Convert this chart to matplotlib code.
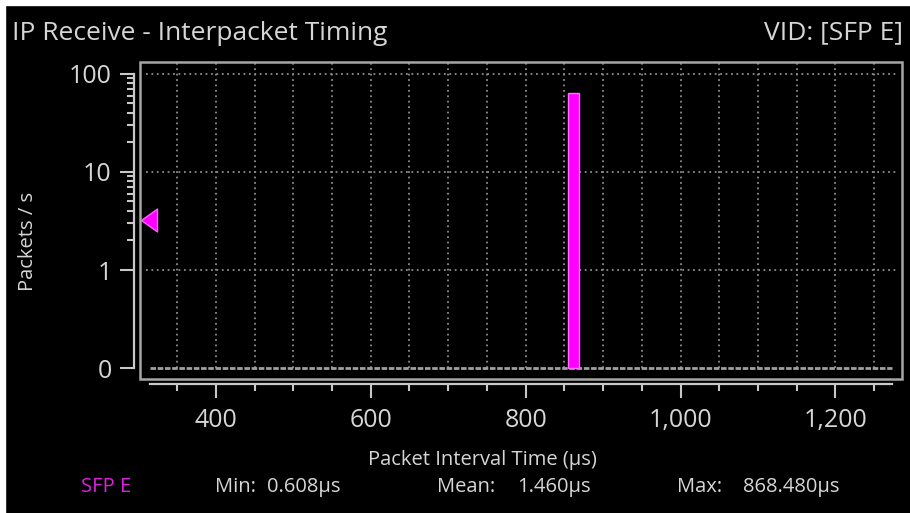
import matplotlib
matplotlib.use("Agg")
import matplotlib.pyplot as plt
import matplotlib.ticker as ticker
import matplotlib.transforms as mtransforms
from matplotlib.patches import Rectangle
from matplotlib.path import Path

# histogram data (packets / s per interval bin)
bin_centers = [862]
bin_rates = [64]
bin_width = 15
baseline_x = [315, 1273]          # zero-rate trace across the visible range
baseline_rate = [0, 0]
offscale_rate = 3.2               # value of the bin that is left of the x range

x_major = [400, 600, 800, 1000, 1200]
y_ticks = [0, 1, 10, 100]
y_labels = ["0", "1", "10", "100"]
ZERO_AT = 0.1                     # where "0" sits on the log axis

title = "IP Receive - Interpacket Timing"
source = "VID: [SFP E]"
stream = "SFP E"
stats_names = ["Min:", "Mean:", "Max:"]
stats_values = ["0.608\u00b5s", "1.460\u00b5s", "868.480\u00b5s"]

FG = "#d6d6d6"
GRID = "#8c8c8c"
MAGENTA = "#ff00ff"
FONT = ["Open Sans", "DejaVu Sans"]
plt.rcParams["font.family"] = FONT


def y_disp(v):
    return v if v > 0 else ZERO_AT


W, H = 910, 513
fig = plt.figure(figsize=(W / 100, H / 100), dpi=100, facecolor="black")
ax = fig.add_axes([140 / W, 134 / H, 762 / W, 317 / H])
ax.set_facecolor("black")
ax.set_yscale("log")
ax.set_xlim(302, 1286)
ax.set_ylim(10 ** -1.112, 10 ** 2.122)

# grid, stops at the zero trace
grid_x = list(range(350, 1251, 50))
ax.vlines(grid_x, ZERO_AT, 10 ** 2.122, colors=GRID, linestyles=(0, (1, 2)), lw=1.3, zorder=1)
for yv in y_ticks[1:]:
    ax.axhline(yv, xmin=0.008, xmax=0.994, color=GRID, ls=(0, (1, 2)), lw=1.3, zorder=1)

# zero trace
ax.plot(baseline_x, [y_disp(v) for v in baseline_rate], color="#a0a0a0",
        lw=2, ls=(0, (2, 0.6)), zorder=2)

# bars
ax.bar(bin_centers, [r - ZERO_AT for r in bin_rates], bottom=ZERO_AT, width=bin_width,
       color=MAGENTA, edgecolor="#ff70ff", lw=1, zorder=3)

# off-scale marker on the left edge
tri = Path([(-0.7, 0), (0.7, 1), (0.7, -1), (-0.7, 0)])
trans = mtransforms.blended_transform_factory(ax.transAxes, ax.transData) + \
    mtransforms.ScaledTranslation(9 / 100, 0, fig.dpi_scale_trans)
ax.plot([0], [offscale_rate], marker=tri, ms=16.5, color=MAGENTA, mec="#ff60ff",
        transform=trans, clip_on=False, zorder=4)

# frame
ax.add_patch(Rectangle((0, 0), 1, 1, transform=ax.transAxes, fill=False,
                       ec="#a6a6a6", lw=1.8, clip_on=False, zorder=5))

# axes
for s in ["top", "right"]:
    ax.spines[s].set_visible(False)
ax.spines["left"].set_position(("outward", 4.3))
ax.spines["bottom"].set_position(("outward", 3.6))
ax.spines["left"].set_bounds(ZERO_AT, 100)
ax.spines["bottom"].set_bounds(baseline_x[0], baseline_x[1])
for s in ["left", "bottom"]:
    ax.spines[s].set_color("#c8c8c8")
    ax.spines[s].set_linewidth(1.6)

ax.yaxis.set_major_locator(ticker.FixedLocator([y_disp(v) for v in y_ticks]))
ax.yaxis.set_major_formatter(ticker.FixedFormatter(y_labels))
ax.yaxis.set_minor_locator(ticker.FixedLocator([k * 10 ** e for e in (0, 1) for k in range(2, 10)]))
ax.yaxis.set_minor_formatter(ticker.NullFormatter())

ax.xaxis.set_major_locator(ticker.FixedLocator(x_major))
ax.xaxis.set_major_formatter(ticker.FuncFormatter(lambda v, p: f"{v:,.0f}"))
ax.xaxis.set_minor_locator(ticker.MultipleLocator(50))

ax.tick_params(which="major", length=10, width=1.5, color="#c8c8c8",
               labelcolor=FG, labelsize=18, pad=6)
ax.tick_params(axis="x", which="major", pad=7)
ax.tick_params(which="minor", length=5, width=1.5, color="#c8c8c8")

ax.set_xlabel("Packet Interval Time (\u00b5s)", color=FG, fontsize=14.5)
ax.xaxis.set_label_coords(0.45, -0.224)
ax.set_ylabel("Packets / s", color=FG, fontsize=14.5)
ax.yaxis.set_label_coords(-0.134, 0.435)

# header
fig.text(12 / W, 1 - 33 / H, title, color=FG, fontsize=19, va="center", ha="left")
fig.text(903 / W, 1 - 33 / H, source, color=FG, fontsize=19, va="center", ha="right")

# stats row
row_y = 1 - 487 / H
fig.text(81 / W, row_y, stream, color="#e020e0", fontsize=14.5, va="center")
name_x = [215, 437, 677]
val_x = [267, 517, 743]
for nm, vl, nx, vx in zip(stats_names, stats_values, name_x, val_x):
    fig.text(nx / W, row_y, nm, color=FG, fontsize=14.5, va="center")
    fig.text(vx / W, row_y, vl, color=FG, fontsize=14.5, va="center")

# white edges of the screenshot
fig.patches.append(Rectangle((0, 0), 5 / W, 1, transform=fig.transFigure, color="white", zorder=10))
fig.patches.append(Rectangle((0, 1 - 5 / H), 1, 5 / H, transform=fig.transFigure, color="white", zorder=10))

fig.savefig("out.png", dpi=100, facecolor="black")
